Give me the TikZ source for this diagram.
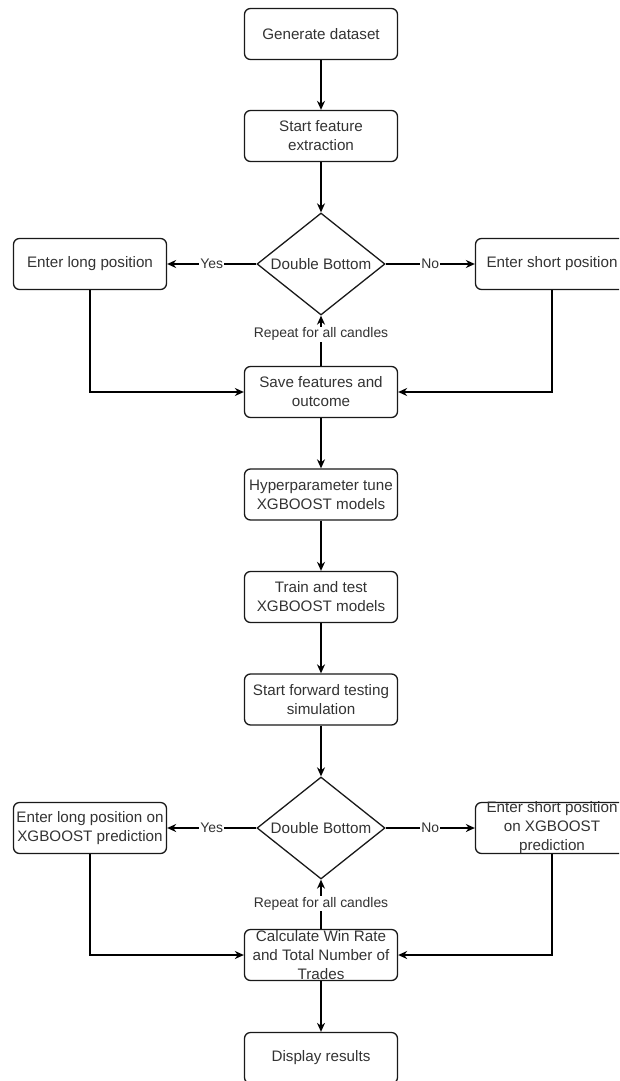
\documentclass[tikz,border=0pt]{standalone}
\usepackage{fontspec}
\setmainfont{Liberation Sans}
\usetikzlibrary{shapes.geometric,arrows.meta}

\begin{document}
\begin{tikzpicture}
  [x=1pt,y=-1pt,
   every node/.style={font=\fontsize{15.2}{19}\selectfont,text=black!80},
   box/.style={draw=black!90,rounded corners=6pt,line width=1.3pt,minimum width=153pt,minimum height=51pt,align=center,inner sep=1pt},
   decision/.style={draw=black!90,diamond,aspect=1.25,line width=1.3pt,minimum width=128pt,minimum height=102pt,inner sep=0pt},
   lbl/.style={fill=white,font=\fontsize{13.9}{16}\selectfont,inner sep=1pt},
   arr/.style={line width=1.3pt,-{Stealth[length=9pt,width=8pt]}}]
  \useasboundingbox (0,0) rectangle (619,1081);
  \clip (0,0) rectangle (619,1081);

  \node [box] (gen) at (321,34) {Generate dataset};
  \node [box] (feat) at (321,136) {Start feature\\extraction};
  \node [decision] (dec1) at (321,264) {Double Bottom};
  \node [box] (long1) at (90,264) {Enter long position};
  \node [box] (short1) at (552,264) {Enter short position};
  \node [box] (save) at (321,392) {Save features and\\outcome};
  \node [box] (hyper) at (321,494.5) {Hyperparameter tune\\XGBOOST models};
  \node [box] (train) at (321,597) {Train and test\\XGBOOST models};
  \node [box] (fwd) at (321,699.5) {Start forward testing\\simulation};
  \node [decision] (dec2) at (321,828) {Double Bottom};
  \node [box] (long2) at (90,828) {Enter long position on\\XGBOOST prediction};
  \node [box,inner ysep=-1pt] (short2) at (552,828) {Enter short position\\on XGBOOST\\prediction};
  \node [box,inner ysep=-1pt] (calc) at (321,955) {Calculate Win Rate\\and Total Number of\\Trades};
  \node [box] (disp) at (321,1058) {Display results};

  \foreach \from/\to in {gen/feat,feat/dec1,save/hyper,hyper/train,train/fwd,fwd/dec2,calc/disp}
    \draw [arr] (\from) -- (\to);

  \draw [arr] (dec1) -- node [lbl] {Yes} (long1);
  \draw [arr] (dec1) -- node [lbl] {No} (short1);
  \draw [arr] (long1) |- (save);
  \draw [arr] (short1) |- (save);
  \draw [arr] (save) -- node [lbl,pos=.63] {Repeat for all candles} (dec1);

  \draw [arr] (dec2) -- node [lbl] {Yes} (long2);
  \draw [arr] (dec2) -- node [lbl] {No} (short2);
  \draw [arr] (long2) |- (calc);
  \draw [arr] (short2) |- (calc);
  \draw [arr] (calc) -- node [lbl,pos=.51] {Repeat for all candles} (dec2);

\end{tikzpicture}
\end{document}
